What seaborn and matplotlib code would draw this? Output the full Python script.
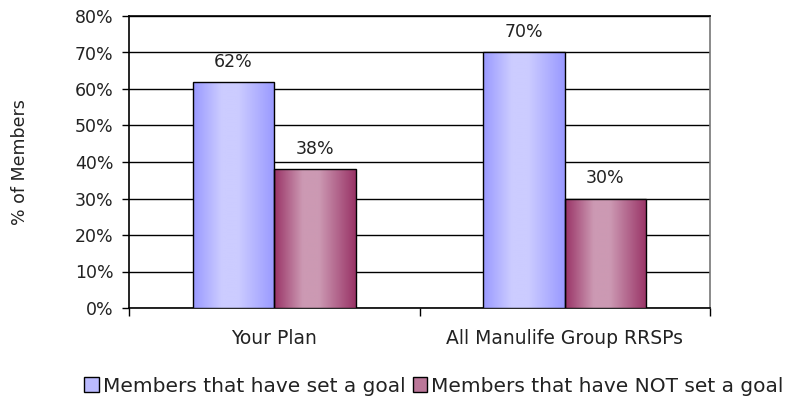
import numpy as np
import pandas as pd
import matplotlib
matplotlib.use('Agg')
import matplotlib.pyplot as plt
import seaborn as sns
from matplotlib.colors import LinearSegmentedColormap
from matplotlib.patches import Patch
from matplotlib.ticker import PercentFormatter, FixedLocator

# --- data ---
plans = ['Your Plan', 'All Manulife Group RRSPs']
series = ['Members that have set a goal', 'Members that have NOT set a goal']
set_goal = [62, 70]
not_set_goal = [38, 30]

df = pd.DataFrame({
    'Plan': plans * 2,
    'Group': [series[0]] * 2 + [series[1]] * 2,
    'Pct': set_goal + not_set_goal,
})

sns.set_style('white')
plt.rcParams['font.family'] = ['DejaVu Sans']

dark = {series[0]: '#9999FF', series[1]: '#993366'}
light = {series[0]: '#CCCCFF', series[1]: '#CC99B3'}

fig = plt.figure(figsize=(7.85, 4.0), dpi=100)
ax = fig.add_axes([0.1643, 0.23, 0.7402, 0.73])

sns.barplot(data=df, x='Plan', y='Pct', hue='Group', hue_order=series,
            palette=[dark[s] for s in series], width=0.56, gap=0,
            edgecolor='black', linewidth=1.0, legend=False, ax=ax, zorder=3)

ax.set_xlim(-0.5, 1.5)
ax.set_ylim(0, 80)

# horizontal gradient fill on each bar (Excel style)
for container, s in zip(ax.containers, series):
    cmap = LinearSegmentedColormap.from_list(
        s, [(0, dark[s]), (0.35, light[s]), (0.55, light[s]), (1, dark[s])])
    grad = np.linspace(0, 1, 256).reshape(1, -1)
    for bar in container:
        x0, y0 = bar.get_x(), bar.get_y()
        w, h = bar.get_width(), bar.get_height()
        im = ax.imshow(grad, cmap=cmap, aspect='auto',
                       extent=(x0, x0 + w, y0, y0 + h), zorder=3.5,
                       interpolation='bilinear')
        im.set_clip_path(bar)
        bar.set_facecolor('none')
        bar.set_zorder(4)
    ax.bar_label(container, labels=[f'{v:.0f}%' for v in container.datavalues],
                 padding=8, fontsize=12.5, color='#222222')

ax.set_xlim(-0.5, 1.5)
ax.set_ylim(0, 80)

# axes styling
ax.yaxis.set_major_locator(FixedLocator(np.arange(0, 81, 10)))
ax.yaxis.set_major_formatter(PercentFormatter(decimals=0))
ax.grid(axis='y', color='black', linewidth=1.0)
ax.set_axisbelow(True)
ax.tick_params(axis='y', left=True, length=5, width=1, labelsize=12.5,
               colors='black', labelcolor='#222222', pad=6)

ax.xaxis.set_major_locator(FixedLocator([-0.5, 0.5, 1.5]))
ax.xaxis.set_minor_locator(FixedLocator([0, 1]))
ax.set_xticklabels(['', '', ''])
ax.set_xticklabels(plans, minor=True)
ax.tick_params(axis='x', which='major', bottom=True, length=6, width=1, colors='black')
ax.tick_params(axis='x', which='minor', bottom=False, length=0, labelsize=13.5,
               labelcolor='#222222', pad=15)

for side in ['left', 'bottom', 'top']:
    ax.spines[side].set_color('black')
    ax.spines[side].set_linewidth(1.2)
ax.spines['right'].set_color('#777777')
ax.spines['right'].set_linewidth(1.2)

ax.set_xlabel('')
ax.set_ylabel('% of Members', fontsize=12.5, color='#222222', labelpad=33)

handles = [Patch(facecolor='#BBBBFF', edgecolor='black', linewidth=1.0),
           Patch(facecolor='#BB7799', edgecolor='black', linewidth=1.0)]
fig.legend(handles, series, loc='center', bbox_to_anchor=(0.553, 0.035), ncol=2,
           frameon=False, fontsize=14.5, handlelength=0.7, handleheight=0.7,
           handletextpad=0.2, columnspacing=0.4, labelcolor='#222222')

fig.savefig('out.png', dpi=100, facecolor='white')
